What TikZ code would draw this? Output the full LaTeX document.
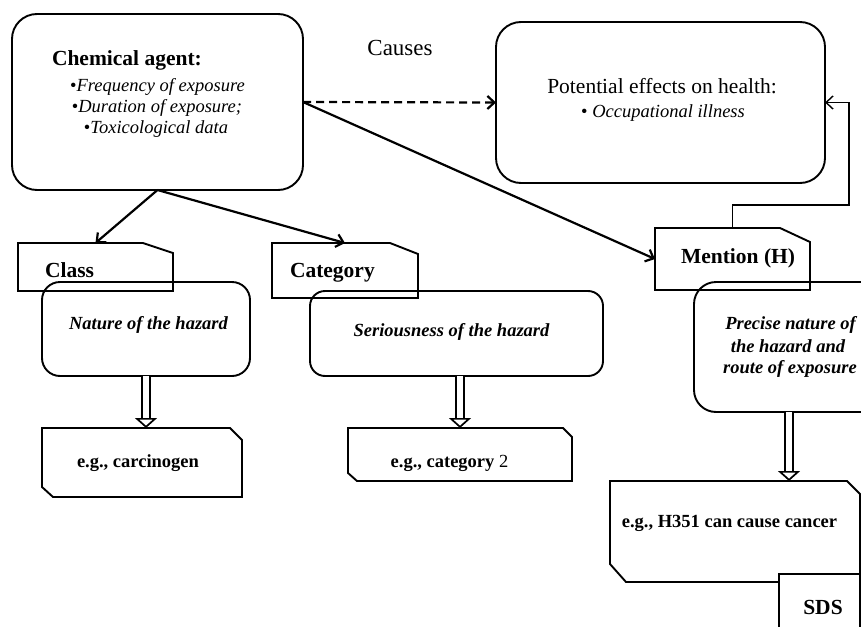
\documentclass[tikz,border=0pt]{standalone}
\usepackage{fontspec}
\setmainfont{Liberation Serif}
\usetikzlibrary{arrows.meta}

\newcommand{\bigtxt}{\fontsize{21.5}{25}\selectfont}
\newcommand{\smalltxt}{\fontsize{18.5}{22}\selectfont}

\begin{document}
\begin{tikzpicture}[x=1pt, y=-1pt, line width=1.9pt,
    every node/.style={inner sep=0pt, outer sep=0pt},
    roundbox/.style={draw, rounded corners=#1},
    roundbox/.default=18pt,
    tabbox/.style={draw=none},
    arr/.style={line width=2.2pt, -{Straight Barb[length=7pt, width=13pt]}},
    dblarr/.style={double, line width=1.7pt, double distance=6pt, -{Triangle[open, length=10pt, width=22pt, line width'=1.7pt]}}]
    \clip (0,0) rectangle (861,626);

    % chemical agent and effects
    \node[roundbox=25pt, minimum width=291pt, minimum height=176pt] (agent) at (157.5,102) {};
    \node[anchor=base west, font=\bigtxt\bfseries] (agenttitle) at (52,65) {Chemical agent:};
    \node[anchor=base, font=\smalltxt] (freq) at (157.5,91) {\textbullet\textit{Frequency of exposure}};
    \node[anchor=base, font=\smalltxt] (dur) at (157,112) {\textbullet\textit{Duration of exposure;}};
    \node[anchor=base, font=\smalltxt] (tox) at (156,133) {\textbullet\textit{Toxicological data}};

    \node[anchor=base, font=\fontsize{23}{26}\selectfont] (causes) at (400,56) {Causes};

    \node[roundbox=25pt, minimum width=329pt, minimum height=161pt] (effects) at (660.5,102.5) {};
    \node[anchor=base, font=\bigtxt] (effectstitle) at (662,93) {Potential effects on health:};
    \node[anchor=base, font=\smalltxt] (illness) at (663,117) {\textbullet{} \textit{Occupational illness}};

    % class
    \node[tabbox, minimum width=155pt, minimum height=48pt] (class) at (95.5,267) {};
    \draw (class.north west) -- ([xshift=-30pt]class.north east) -- ([yshift=-10pt]class.north east) -- (class.south east) -- (class.south west) -- cycle;
    \node[anchor=base west, font=\bigtxt\bfseries] (classtxt) at (45,277) {Class};
    \node[roundbox, minimum width=208pt, minimum height=94pt] (nature) at (146,329) {};
    \node[anchor=base, font=\smalltxt\bfseries\itshape] (naturetxt) at (148.5,329) {Nature of the hazard};
    \node[tabbox, minimum width=200pt, minimum height=69pt] (carc) at (142,462.5) {};
    \draw (carc.north west) -- ([xshift=-12pt]carc.north east) -- ([yshift=-12pt]carc.north east) -- (carc.south east) -- ([xshift=11pt]carc.south west) -- ([yshift=10pt]carc.south west) -- cycle;
    \node[anchor=base, font=\smalltxt\bfseries] (carctxt) at (138,467) {e.g., carcinogen};

    % category
    \node[tabbox, minimum width=146pt, minimum height=55pt] (cat) at (345,270.5) {};
    \draw (cat.north west) -- ([xshift=-28pt]cat.north east) -- ([yshift=-11pt]cat.north east) -- (cat.south east) -- (cat.south west) -- cycle;
    \node[anchor=base west, font=\bigtxt\bfseries] (cattxt) at (290,277) {Category};
    \node[roundbox=15pt, minimum width=293pt, minimum height=85pt] (serious) at (456.5,333.5) {};
    \node[anchor=base, font=\smalltxt\bfseries\itshape] (serioustxt) at (451.5,336) {Seriousness of the hazard};
    \node[tabbox, minimum width=224pt, minimum height=53pt] (cattwo) at (460,454.5) {};
    \draw (cattwo.north west) -- ([xshift=-9pt]cattwo.north east) -- ([yshift=-9pt]cattwo.north east) -- (cattwo.south east) -- ([xshift=9pt]cattwo.south west) -- ([yshift=8pt]cattwo.south west) -- cycle;
    \node[anchor=base, font=\smalltxt] (cattwotxt) at (449.5,467) {\textbf{e.g., category} 2};

    % mention
    \node[tabbox, minimum width=155pt, minimum height=62pt] (mention) at (732.5,259) {};
    \draw (mention.north west) -- ([xshift=-30pt]mention.north east) -- ([yshift=-14pt]mention.north east) -- (mention.south east) -- (mention.south west) -- cycle;
    \node[anchor=base west, font=\bigtxt\bfseries] (mentiontxt) at (681,263) {Mention (H)};
    \node[roundbox=22pt, minimum width=190pt, minimum height=130pt] (precise) at (789,347) {};
    \node[anchor=base, font=\smalltxt\bfseries\itshape] (precisea) at (790.5,329) {Precise nature of};
    \node[anchor=base, font=\smalltxt\bfseries\itshape] (preciseb) at (788,352) {the hazard and};
    \node[anchor=base, font=\smalltxt\bfseries\itshape] (precisec) at (790,373) {route of exposure};
    \node[tabbox, minimum width=250pt, minimum height=101pt] (hcode) at (735,531.5) {};
    \draw (hcode.north west) -- ([xshift=-13pt]hcode.north east) -- ([yshift=-13pt]hcode.north east) -- (hcode.south east) -- ([xshift=16pt]hcode.south west) -- ([yshift=18pt]hcode.south west) -- cycle;
    \node[anchor=base, font=\smalltxt\bfseries] (hcodetxt) at (729.5,527) {e.g., H351 can cause cancer};
    \node[draw, fill=white, minimum width=81pt, minimum height=86pt] (sds) at (819.5,617) {};
    \node[anchor=base, font=\bigtxt\bfseries] (sdstxt) at (823,614) {SDS};

    % connectors
    \draw[arr, dash pattern=on 8pt off 5pt] (agent.east) -- (effects.west);
    \draw[arr] (agent.east) -- (mention.west);
    \draw[arr] (agent.south) -- (class.north);
    \draw[arr] (agent.south) -- (cat.north);
    \coordinate (back) at (849,205);
    \draw[arr, line width=1.4pt] (mention.north) |- (back) |- (effects.east);
    \draw[dblarr] (nature.south) -- (nature.south |- carc.north);
    \draw[dblarr] (serious.south -| cattwo.north) -- (cattwo.north);
    \draw[dblarr] (precise.south) -- (precise.south |- hcode.north);
\end{tikzpicture}
\end{document}
